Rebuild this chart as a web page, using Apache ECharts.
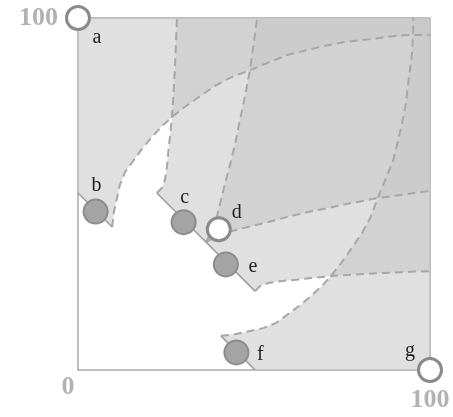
<!DOCTYPE html>
<html><head><meta charset="utf-8">
<script src="https://cdn.jsdelivr.net/npm/echarts/dist/echarts.min.js"></script>
<style>html,body{margin:0;padding:0;background:#fff}#c{width:453px;height:417px}</style>
</head><body><div id="c"></div>
<script>
// ---- data (axis units 0..100) ----
const pointNames = ['a','b','c','d','e','f','g'];
const pointValues = [[0,100],[5,45],[30,42],[40,40],[42,30],[45,5],[100,0]];
const openPoints = ['a','d','g'];

// dashed boundary curves
const curveP = [[9.7,40.6],[10.2,44.9],[11.1,48.9],[11.9,52.6],[13.4,56.3],[15.6,59.3],[18.2,62.8],[20.5,65.6],[23.6,69.0],[26.7,71.9],[30.7,75.0],[34.7,77.8],[38.9,80.7],[43.2,83.0],[48.9,85.2],[54.5,87.5],[59.4,89.5],[68.8,91.8],[75.9,93.2],[83.0,94.0],[90.0,94.9],[95.2,95.2],[100,95.2]];
const curveU = [[40.6,9.7],[44.9,10.2],[48.9,11.1],[52.6,11.9],[56.3,13.4],[59.3,15.6],[62.8,18.2],[65.6,20.5],[69.0,23.6],[71.9,26.7],[75.0,30.7],[77.8,34.7],[80.7,38.9],[83.0,43.2],[85.2,48.9],[87.5,54.5],[89.5,59.4],[91.8,68.8],[93.2,75.9],[94.0,83.0],[94.9,90.0],[95.2,95.2],[95.2,100]];
const curveQ = [[22.4,50.3],[23.8,51.7],[24.7,54.0],[25.3,58.0],[25.7,62.5],[26.2,67.0],[26.7,71.9],[27.1,78.0],[27.5,85.0],[27.8,92.0],[28.1,100]];
const curveT = [[50.3,22.4],[51.7,23.8],[54.0,24.7],[58.0,25.3],[62.5,25.7],[67.0,26.2],[71.9,26.7],[78.0,27.1],[85.0,27.5],[92.0,27.8],[100,28.1]];
const curveR = [[36.3,36.3],[38.0,39.5],[39.3,43.0],[40.3,47.0],[41.8,53.1],[43.5,59.5],[44.8,65.0],[46.0,71.0],[47.5,78.0],[48.9,85.5],[49.8,92.0],[50.9,100]];
const curveS = [[36.3,36.3],[39.5,38.0],[43.0,39.3],[47.0,40.3],[53.1,41.8],[59.5,43.5],[65.0,44.8],[71.0,46.0],[78.0,47.5],[85.5,48.9],[92.0,49.8],[100,50.9]];

// straight edges
const edgeB = [[0,50.3],[9.7,40.6]];
const edgeC = [[22.4,50.3],[50.3,22.4]];
const edgeF = [[40.6,9.7],[50.3,0]];

// ---- regions built from the curves ----
const regionB = [[0,100]].concat(edgeB, curveP.slice(1), [[100,100]]);
const regionF = [[100,0]].concat(edgeF.slice().reverse(), curveU.slice(1), [[100,100]]);
const regionCE = curveQ.slice().reverse().concat(curveT, [[100,100]]);
const regionD = curveR.slice().reverse().concat(curveS.slice(1), [[100,100]]);
const regions = [regionB, regionCE, regionD, regionF];

// ---- styles ----
const FILL = 'rgba(198,198,198,0.55)';
const DASH = {color:'#a7a7a7', width:2, type:[8,5]};
const EDGE = {color:'#9c9c9c', width:1.5};
const labelOffsets = {a:[19,20], b:[1,-26], c:[1,-24], d:[18,-16], e:[27,2], f:[24,2], g:[-20,-19]};

function polySeries(poly){
  return {
    type:'custom', coordinateSystem:'cartesian2d', data:poly, z:1, silent:true,
    encode:{x:0,y:1},
    renderItem:function(params, api){
      if(params.dataIndex !== 0) return;
      return {type:'polygon', shape:{points:poly.map(p=>api.coord(p))}, style:{fill:FILL}};
    }
  };
}
function lineSeries(d, style, z){
  return {type:'line', data:d, symbol:'none', silent:true, z:z, lineStyle:style, animation:false};
}
function pointSeries(open){
  const data = [];
  pointNames.forEach((n,i)=>{
    if((openPoints.indexOf(n) >= 0) !== open) return;
    data.push({name:n, value:pointValues[i], label:{offset:labelOffsets[n]}});
  });
  return {
    type:'scatter', data:data, z:10, symbol:'circle', symbolSize: open?23:24,
    itemStyle: open ? {color:'#ffffff', borderColor:'#8a8a8a', borderWidth:3, opacity:1}
                    : {color:'#a4a4a4', borderColor:'#8b8b8b', borderWidth:2, opacity:1},
    label:{show:true, position:'inside', formatter:'{b}', color:'#1e1e1e',
           fontFamily:'Liberation Serif', fontSize:20},
    animation:false
  };
}

const axisLabelFont = {color:'#b2b2b2', fontFamily:'Liberation Serif', fontWeight:'bold', fontSize:26};

const option = {
  animation:false,
  grid:{left:78, top:18, width:352, height:352, show:true, borderColor:'#aaaaaa', borderWidth:1.5, backgroundColor:'transparent'},
  xAxis:{type:'value', min:0, max:100, interval:100, splitLine:{show:false},
    axisLine:{show:false}, axisTick:{show:false},
    axisLabel:Object.assign({margin:4, showMinLabel:true, showMaxLabel:true,
      formatter:function(v){ return v===0 ? '{z|0}' : (v===100 ? '{h|100}' : ''); },
      rich:{z:Object.assign({padding:[0,20,0,0]}, axisLabelFont), h:Object.assign({padding:[13,0,0,0]}, axisLabelFont)}
    }, axisLabelFont)},
  yAxis:{type:'value', min:0, max:100, interval:100, splitLine:{show:false},
    axisLine:{show:false}, axisTick:{show:false},
    axisLabel:Object.assign({margin:20, formatter:function(v){ return v===100 ? '100' : ''; }}, axisLabelFont)},
  series: regions.map(polySeries).concat([
    lineSeries(curveP, DASH, 3), lineSeries(curveU, DASH, 3),
    lineSeries(curveQ, DASH, 3), lineSeries(curveT, DASH, 3),
    lineSeries(curveR, DASH, 3), lineSeries(curveS, DASH, 3),
    lineSeries(edgeB, EDGE, 4), lineSeries(edgeC, EDGE, 4), lineSeries(edgeF, EDGE, 4),
    pointSeries(false), pointSeries(true)
  ])
};
const chart = echarts.init(document.getElementById('c'), null, {renderer:'canvas'});
chart.setOption(option);
</script></body></html>
